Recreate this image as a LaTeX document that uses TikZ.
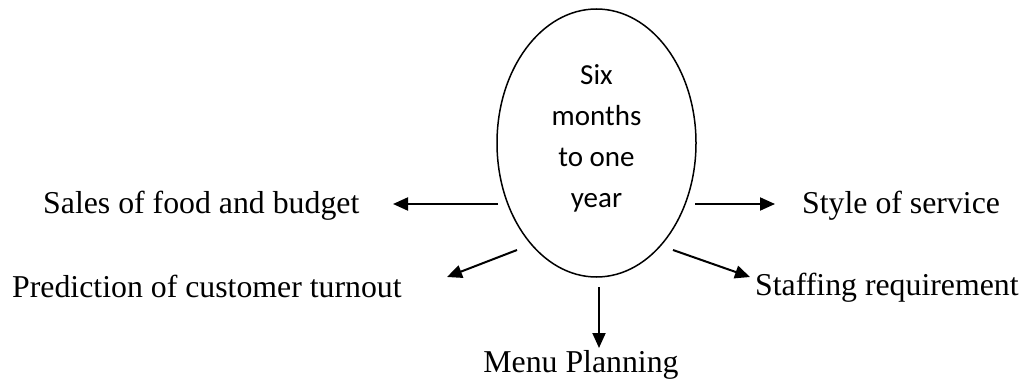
\documentclass[tikz,border=0pt]{standalone}
\usepackage{fontspec}
\setmainfont{Liberation Serif}
\newfontfamily\calib{Carlito}
\usetikzlibrary{shapes.geometric,arrows.meta}
\begin{document}
\begin{tikzpicture}[x=1pt,y=-1pt,
  lbl/.style={font=\fontsize{31.8}{36}\selectfont, inner sep=0pt},
  arr/.style={line width=2pt,-{Triangle[length=15pt,width=13pt]}},
  oval/.style={draw,ellipse,line width=1.5pt,minimum width=199pt,minimum height=268pt,inner sep=0pt}]
\useasboundingbox (0,0) rectangle (1025,385);
\node[oval] (e) at (596.5,143) {};
\node[font=\calib\fontsize{29}{41}\selectfont, align=center, inner sep=0pt] (et) at (596.5,138) {Six\\months\\to one\\year};
\node[lbl, anchor=base west] (sales) at (43,213) {Sales of food and budget};
\node[lbl, anchor=base west] (pred) at (12,297) {Prediction of customer turnout};
\node[lbl, anchor=base] (menu) at (581,372) {Menu Planning};
\node[lbl, anchor=base west] (style) at (802,213) {Style of service};
\node[lbl, anchor=base west] (staff) at (755,295) {Staffing requirement};
\coordinate (s1) at (498,204);
\coordinate (s2) at (517,250);
\coordinate (s3) at (599,287);
\coordinate (s4) at (695,204);
\coordinate (s5) at (673,250);
\coordinate (t1) at (393,204);
\coordinate (t2) at (447,277);
\coordinate (t3) at (599,348);
\coordinate (t4) at (775,204);
\coordinate (t5) at (750,277);
\draw[arr] (s1) -- (t1);
\draw[arr] (s2) -- (t2);
\draw[arr] (s3) -- (t3);
\draw[arr] (s4) -- (t4);
\draw[arr] (s5) -- (t5);
\end{tikzpicture}
\end{document}
